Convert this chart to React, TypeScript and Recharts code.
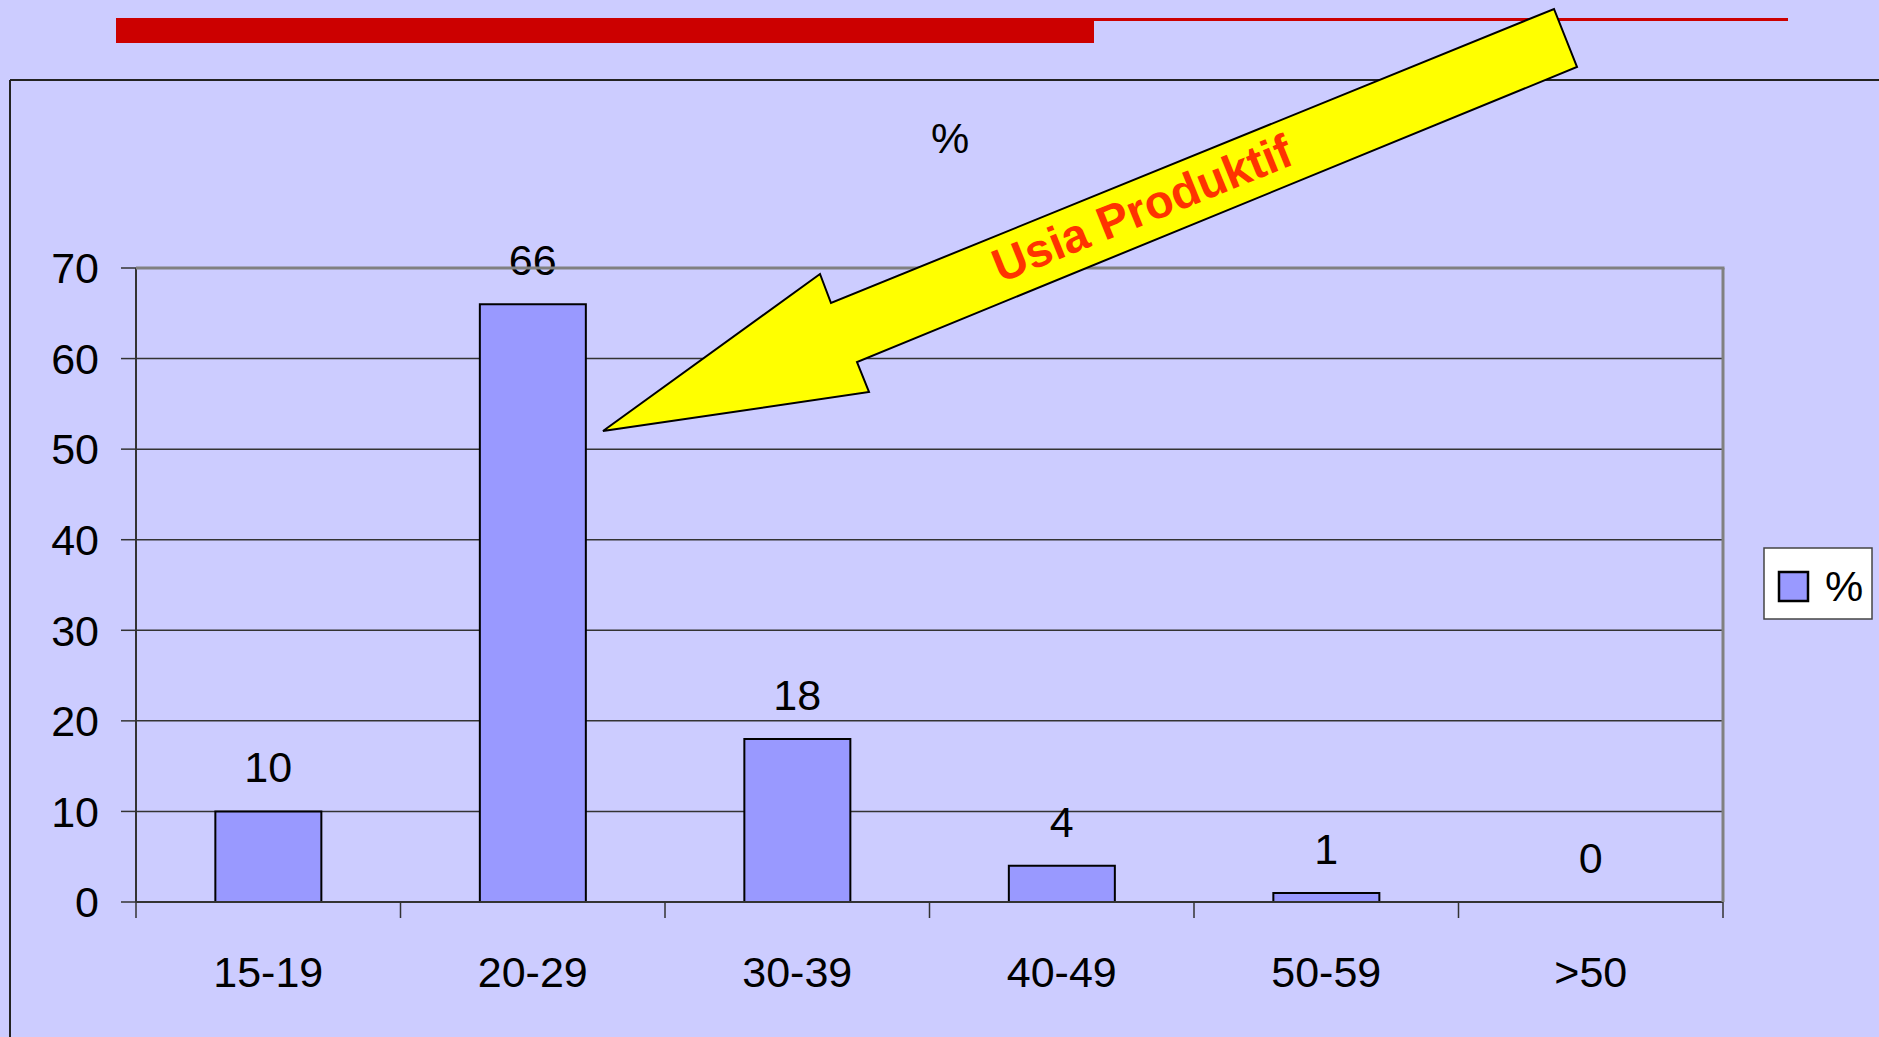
import React from "react";
import { ComposedChart, Bar, Line, XAxis, YAxis, CartesianGrid, LabelList } from "recharts";

const categories = ["15-19", "20-29", "30-39", "40-49", "50-59", ">50"];
const percentValues = [10, 66, 18, 4, 1, 0];
const yTicks = [0, 10, 20, 30, 40, 50, 60, 70];
const seriesName = "%";
const annotationText = "Usia Produktif";

const data = categories.map((c, i) => ({ cat: c, val: percentValues[i] }));

const W = 1879;
const H = 1037;
const M = { top: 268, right: 156, bottom: 55, left: 36 };
const Y_W = 100;
const X_H = 80;
const PLOT_L = M.left + Y_W;
const PLOT_R = W - M.right;
const PLOT_T = M.top;
const PLOT_B = H - M.bottom - X_H;
const BW = (PLOT_R - PLOT_L) / categories.length;
const FONT = '"Liberation Sans", Arial, sans-serif';

const XTick = (props: any) => {
  const { x, y, payload, index } = props;
  const axisY = y - 54;
  const lines = [
    <line key="l" x1={x - BW / 2} x2={x - BW / 2} y1={axisY} y2={axisY + 16} stroke="#333" strokeWidth={1.5} />,
  ];
  if (index === categories.length - 1) {
    lines.push(
      <line key="r" x1={x + BW / 2} x2={x + BW / 2} y1={axisY} y2={axisY + 16} stroke="#333" strokeWidth={1.5} />
    );
  }
  return (
    <g>
      {lines}
      <text x={x} y={y} dy="0.71em" textAnchor="middle" fontSize={43} fontFamily={FONT} fill="#000">
        {payload.value}
      </text>
    </g>
  );
};

export default function App() {
  return (
    <div
      style={{
        position: "absolute",
        left: 0,
        top: 0,
        width: W,
        height: H,
        background: "#CCCCFF",
        overflow: "hidden",
        fontFamily: FONT,
      }}
    >
      <ComposedChart width={W} height={H} data={data} margin={M} barCategoryGap="30%">
        <CartesianGrid vertical={false} stroke="#333" strokeWidth={1.5} />
        <XAxis
          dataKey="cat"
          height={X_H}
          axisLine={{ stroke: "#333", strokeWidth: 2 }}
          tickLine={false}
          tickSize={16}
          tickMargin={38}
          interval={0}
          tick={<XTick />}
        />
        <YAxis
          width={Y_W}
          domain={[0, 70]}
          ticks={yTicks}
          interval={0}
          axisLine={{ stroke: "#333", strokeWidth: 2 }}
          tickLine={{ stroke: "#333", strokeWidth: 1.5 }}
          tickSize={15}
          tickMargin={22}
          tick={{ fontSize: 43, fill: "#000", fontFamily: FONT }}
        />
        <Bar dataKey="val" name={seriesName} fill="#9999FF" stroke="#000" strokeWidth={2} isAnimationActive={false} />
        <Line
          dataKey="val"
          stroke="none"
          dot={false}
          activeDot={false}
          legendType="none"
          isAnimationActive={false}
        >
          <LabelList dataKey="val" position="top" offset={29} fill="#000" fontSize={43} fontFamily={FONT} />
        </Line>
      </ComposedChart>
      <svg
        width={W}
        height={H}
        style={{ position: "absolute", left: 0, top: 0, pointerEvents: "none" }}
      >
        {/* header decorations */}
        <rect x={116} y={18} width={978} height={25} fill="#CC0000" />
        <rect x={1094} y={18} width={694} height={3} fill="#CC0000" />
        {/* chart area border */}
        <line x1={10} y1={80} x2={W} y2={80} stroke="#222" strokeWidth={2} />
        <line x1={10} y1={80} x2={10} y2={H} stroke="#222" strokeWidth={2} />
        {/* plot area border */}
        <line x1={PLOT_L} y1={PLOT_T} x2={PLOT_R + 1.5} y2={PLOT_T} stroke="#808080" strokeWidth={3} />
        <line x1={PLOT_R} y1={PLOT_T} x2={PLOT_R} y2={PLOT_B} stroke="#808080" strokeWidth={3} />
        {/* title */}
        <text x={950} y={153} textAnchor="middle" fontSize={43} fontFamily={FONT} fill="#000">
          {seriesName}
        </text>
        {/* legend */}
        <rect x={1764} y={548} width={108} height={71} fill="#FFFFFF" stroke="#444" strokeWidth={1.5} />
        <rect x={1779} y={572} width={29} height={29} fill="#9999FF" stroke="#000" strokeWidth={2.5} />
        <text x={1825} y={601} fontSize={43} fontFamily={FONT} fill="#000">
          {seriesName}
        </text>
        {/* arrow annotation */}
        <polygon
          points="603,431 820,274 831,303 1554,9 1577,67 857,362 869,392"
          fill="#FFFF00"
          stroke="#000"
          strokeWidth={2}
          strokeLinejoin="miter"
        />
        <text
          x={1142}
          y={208}
          transform="rotate(-22 1142 208)"
          textAnchor="middle"
          dominantBaseline="central"
          fontSize={47}
          fontWeight="bold"
          fontFamily={FONT}
          fill="#FF3300"
        >
          {annotationText}
        </text>
      </svg>
    </div>
  );
}
